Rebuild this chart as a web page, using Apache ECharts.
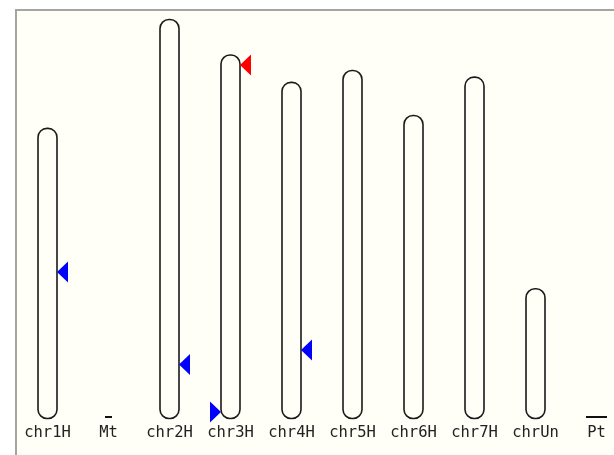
<!DOCTYPE html>
<html>
<head>
<meta charset="utf-8">
<script src="https://cdn.jsdelivr.net/npm/echarts@6/dist/echarts.min.js"></script>
<style>
html,body{margin:0;padding:0;background:#ffffff;}
#chart{width:614px;height:455px;}
</style>
</head>
<body>
<div id="chart"></div>
<script>
// Chromosome names and lengths (Mb)
const categories = ['chr1H', 'Mt', 'chr2H', 'chr3H', 'chr4H', 'chr5H', 'chr6H', 'chr7H', 'chrUn', 'Pt'];
const lengths = [558.5, 0.5, 768.1, 699.7, 647.1, 670.0, 583.4, 657.2, 249.8, 0.14];
// Markers: chromosome, position from chromosome start (Mb), side, colour
const markerChrom = ['chr1H', 'chr2H', 'chr3H', 'chr3H', 'chr4H'];
const markerPos = [276.5, 664.2, 19.2, 687.2, 515.2];
const markerSide = ['right', 'right', 'right', 'left', 'right'];
const markerColor = ['blue', 'blue', 'red', 'blue', 'blue'];

const chart = echarts.init(document.getElementById('chart'), null, {renderer: 'canvas'});

const chromData = categories.map((c, i) => [i, lengths[i]]);
const markerData = markerChrom.map((c, i) => [categories.indexOf(c), lengths[categories.indexOf(c)] - markerPos[i], markerSide[i], markerColor[i]]);

const CHR_W = 19;
const organelleW = {Mt: 7, Pt: 21};

const option = {
  animation: false,
  backgroundColor: '#ffffff',
  graphic: [{
    type: 'rect',
    z: -10,
    silent: true,
    shape: {x: 16, y: 10, width: 700, height: 600},
    style: {fill: '#fffef7', stroke: '#a4a4a4', lineWidth: 2}
  }],
  grid: {left: 47.5, right: 17.5, top: 19.5, bottom: 36.5},
  xAxis: {
    type: 'category',
    data: categories,
    boundaryGap: false,
    axisLine: {show: false},
    axisTick: {show: false},
    splitLine: {show: false},
    axisLabel: {
      interval: 0,
      margin: 6,
      fontFamily: 'DejaVu Sans Mono',
      fontSize: 15.5,
      color: '#222222'
    }
  },
  yAxis: {
    type: 'value',
    min: 0,
    max: 768.1,
    show: false,
    splitLine: {show: false}
  },
  series: [{
    type: 'custom',
    z: 2,
    data: chromData,
    renderItem: function (params, api) {
      const idx = api.value(0);
      const len = api.value(1);
      const name = categories[idx];
      const base = api.coord([idx, 0]);
      const top = api.coord([idx, len]);
      if (organelleW[name]) {
        const w = organelleW[name];
        return {
          type: 'rect',
          shape: {x: base[0] - w / 2, y: base[1] - 2.5, width: w, height: 2},
          style: {fill: '#111111'}
        };
      }
      const h = base[1] - top[1];
      return {
        type: 'rect',
        shape: {x: base[0] - CHR_W / 2, y: top[1], width: CHR_W, height: h, r: 9},
        style: {fill: 'none', stroke: '#1a1a1a', lineWidth: 1.6}
      };
    }
  }, {
    type: 'custom',
    z: 3,
    data: markerData,
    renderItem: function (params, api) {
      const idx = api.value(0);
      const y = api.value(1);
      const side = markerData[params.dataIndex][2];
      const color = markerData[params.dataIndex][3];
      const p = api.coord([idx, y]);
      let pts;
      if (side === 'right') {
        const tip = p[0] + CHR_W / 2;
        pts = [[tip, p[1]], [tip + 11, p[1] - 10.5], [tip + 11, p[1] + 10.5]];
      } else {
        const tip = p[0] - CHR_W / 2;
        pts = [[tip, p[1]], [tip - 11, p[1] - 10.5], [tip - 11, p[1] + 10.5]];
      }
      return {
        type: 'polygon',
        shape: {points: pts},
        style: {fill: color === 'red' ? '#ff0000' : '#0000ff'}
      };
    }
  }]
};
chart.setOption(option);
</script>
</body>
</html>
